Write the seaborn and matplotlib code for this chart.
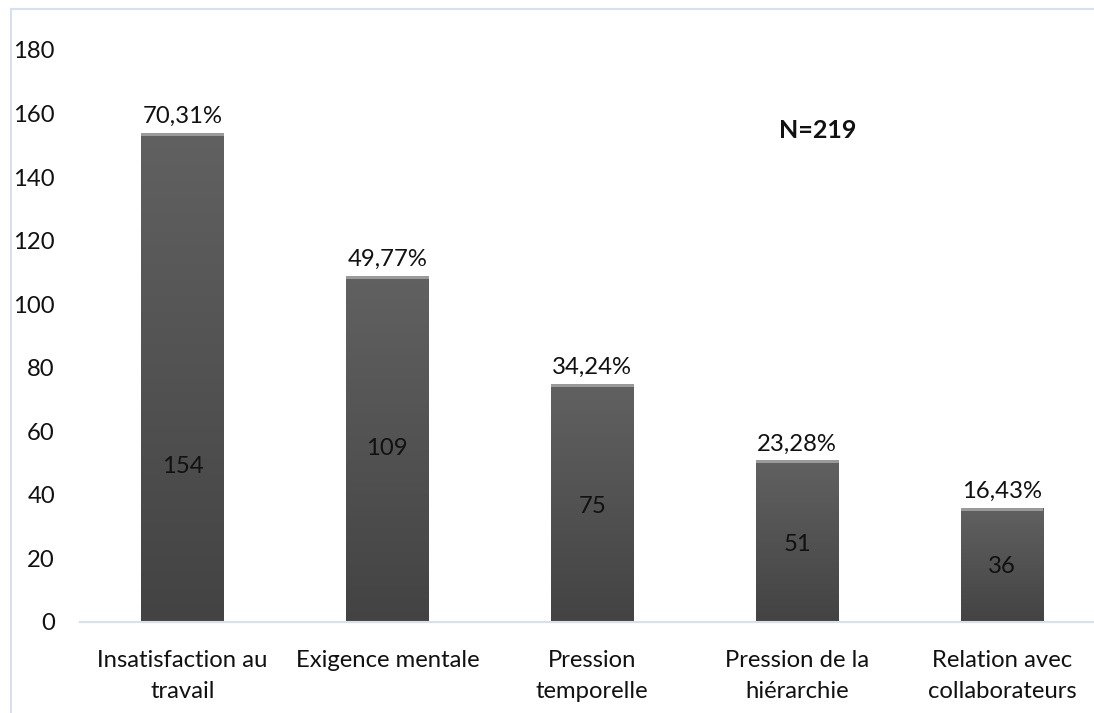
import matplotlib
matplotlib.use("Agg")
import matplotlib.pyplot as plt
import seaborn as sns
import numpy as np
import pandas as pd
from matplotlib.patches import Rectangle
from matplotlib.colors import LinearSegmentedColormap

categories = ["Insatisfaction au\ntravail", "Exigence mentale", "Pression\ntemporelle",
              "Pression de la\nhiérarchie", "Relation avec\ncollaborateurs"]
counts = [154, 109, 75, 51, 36]
percent_labels = ["70,31%", "49,77%", "34,24%", "23,28%", "16,43%"]
yticks = [0, 20, 40, 60, 80, 100, 120, 140, 160, 180]
note = "N=219"

sns.set_theme(style="white")
plt.rcParams["font.family"] = ["Lato", "DejaVu Sans"]
FS = 17.2

W, H = 1094, 713
fig = plt.figure(figsize=(W / 100, H / 100), dpi=100)
ax = fig.add_axes([80 / W, (H - 622) / H, (1094 - 80) / W, (622 - 50) / H])

df = pd.DataFrame({"cat": categories, "n": counts})
sns.barplot(data=df, x="cat", y="n", ax=ax, color="#555555", width=0.405,
            saturation=1, edgecolor="none")

ax.set_yticks(yticks)
ax.set_yticklabels([str(v) for v in yticks], fontsize=FS, color="#111111")
ax.set_xticks(range(len(categories)))
ax.set_xticklabels(categories, fontsize=FS, color="#111111", linespacing=1.6)
ax.tick_params(axis="y", length=0, pad=18)
ax.tick_params(axis="x", length=0, pad=20)
ax.set_xlabel("")
ax.set_ylabel("")
for s in ["top", "right", "left"]:
    ax.spines[s].set_visible(False)
ax.spines["bottom"].set_color("#d6e0ef")
ax.spines["bottom"].set_linewidth(1.5)

# gradient fill for bars
grad = np.linspace(0, 1, 256).reshape(-1, 1)
cmap = LinearSegmentedColormap.from_list("g", ["#434343", "#616161"])
for p in list(ax.patches):
    x0, y0 = p.get_x(), p.get_y()
    w, h = p.get_width(), p.get_height()
    im = ax.imshow(grad, extent=[x0, x0 + w, y0, y0 + h], origin="lower",
                   cmap=cmap, aspect="auto", zorder=p.get_zorder())
    im.set_clip_path(p)
    p.set_facecolor("none")
    ax.add_patch(Rectangle((x0, y0 + h - 1.0), w, 1.0, facecolor="#9a9a9a",
                           edgecolor="none", zorder=p.get_zorder() + 0.1))
ax.set_xlim(-0.5, 4.449)
ax.set_ylim(0, 180)

count_label_y = [48.8, 54.5, 36.5, 24.5, 17.6]
bars = ax.patches[:len(counts)]
for i, p in enumerate(bars):
    cx = p.get_x() + p.get_width() / 2
    ax.annotate(percent_labels[i], (cx, counts[i]), xytext=(0, 4),
                textcoords="offset points", ha="center", va="bottom",
                fontsize=FS, color="#111111")
    ax.text(cx, count_label_y[i], str(counts[i]), ha="center", va="center",
            fontsize=FS, color="#111111")

ax.text(3.10, 154.8, note, ha="center", va="center", fontsize=18,
        fontweight="bold", color="#111111")

# outer chart frame (light blue)
fig.patches.append(Rectangle((11 / W, -0.1), 1.2, (H - 9) / H + 0.1,
                             transform=fig.transFigure, fill=False,
                             edgecolor="#d6e0ef", linewidth=1.5))

fig.savefig("out.png", dpi=100)
